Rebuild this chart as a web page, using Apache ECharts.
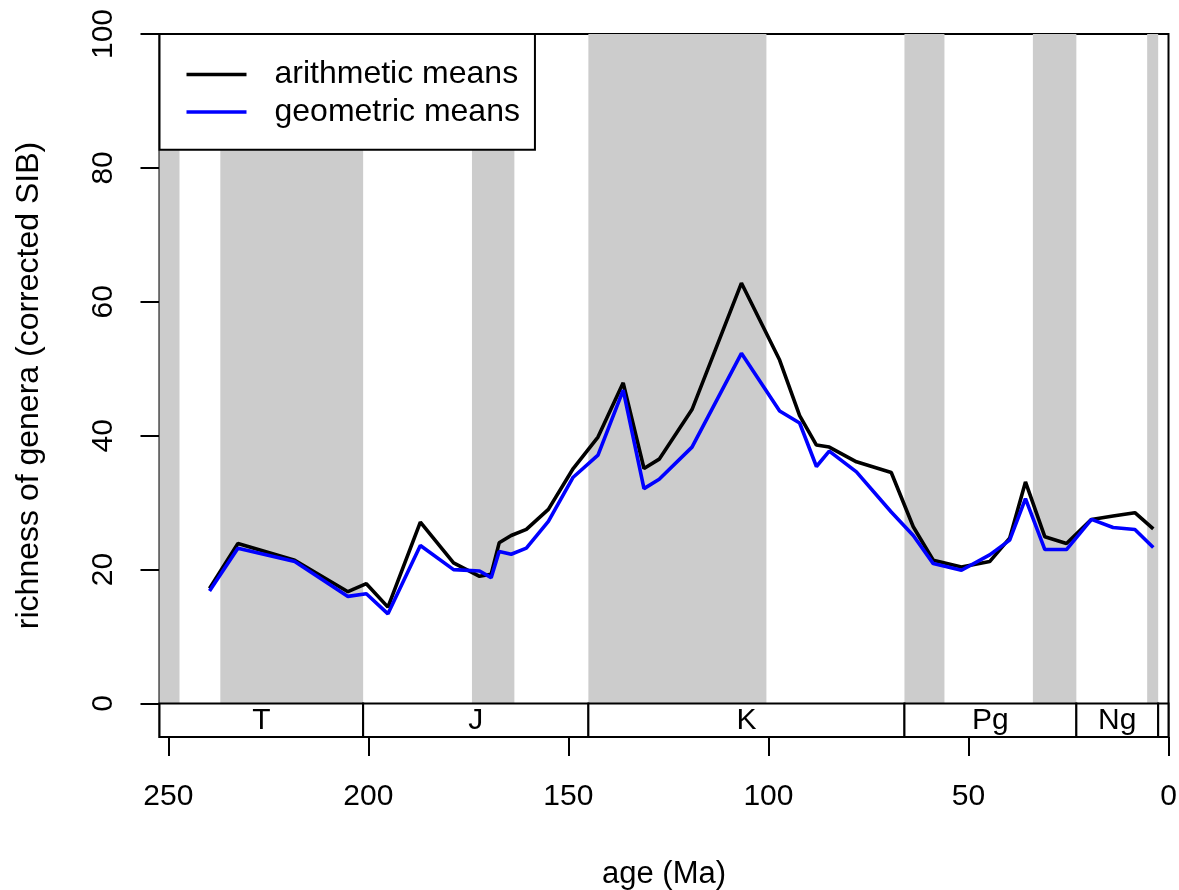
<!DOCTYPE html>
<html lang="en">

<head>
  <script src="https://cdn.jsdelivr.net/npm/echarts@6.0.0/dist/echarts.min.js"></script>
</head>

<body style="margin:0;background:#fff;">
  <div id="richnessChart" style="width: 1179px;height:890px;"></div>

  <script type="text/javascript">

    // ages of the bins (Ma) and the two richness curves
    var ages = [239.7, 232.6, 218.4, 205.1, 200.5, 195.1, 187.0, 178.7, 172.2, 169.3,
                167.3, 164.3, 160.5, 155.0, 148.8, 142.6, 136.3, 131.1, 127.3, 119.1,
                106.75, 97.2, 92.2, 88.0, 84.8, 78.0, 69.3, 63.8, 58.8, 51.75,
                44.7, 39.7, 35.75, 30.9, 25.5, 19.25, 13.85, 8.4, 3.8];
    var arithmeticMeans = [17.2, 23.9, 21.4, 16.7, 17.9, 14.4, 27.1, 21.0, 19.0, 19.3,
                           24.0, 25.1, 26.0, 29.0, 35.1, 39.8, 47.9, 35.1, 36.5, 43.9,
                           62.8, 51.3, 43.0, 38.6, 38.3, 36.1, 34.5, 26.4, 21.4, 20.4,
                           21.2, 24.7, 33.1, 24.9, 23.9, 27.5, 28.0, 28.5, 26.1];
    var geometricMeans = [16.8, 23.2, 21.2, 16.0, 16.4, 13.4, 23.6, 20.0, 19.8, 18.8,
                          22.7, 22.3, 23.2, 27.2, 33.8, 37.1, 46.8, 32.1, 33.5, 38.3,
                          52.3, 43.7, 41.9, 35.4, 37.7, 34.6, 28.6, 25.1, 20.9, 19.9,
                          22.2, 24.4, 30.6, 23.0, 23.0, 27.5, 26.3, 26.0, 23.3];

    // geological periods for the time scale bar
    var periodNames = ['T', 'J', 'K', 'Pg', 'Ng', ''];
    var periodStart = [252.2, 201.3, 145.0, 66.0, 23.03, 2.58];
    var periodEnd = [201.3, 145.0, 66.0, 23.03, 2.58, 0];

    // shaded epochs (every other epoch)
    var shadeStart = [252.2, 237.0, 174.1, 145.0, 66.0, 33.9, 5.333];
    var shadeEnd = [247.2, 201.3, 163.5, 100.5, 56.0, 23.03, 2.58];

    var xTicks = [0, 50, 100, 150, 200, 250];
    var yTicks = [0, 20, 40, 60, 80, 100];

    var font = 'Liberation Sans, Arial, Helvetica, sans-serif';

    function pairs(xs, ys) {
        return xs.map(function (x, i) { return [x, ys[i]]; });
    }

    function createRichnessChart() {
        const chart = echarts.init(document.getElementById('richnessChart'));

        var shadeData = shadeStart.map(function (s, i) { return [s, shadeEnd[i]]; });
        var periodData = periodStart.map(function (s, i) { return [s, periodEnd[i], periodNames[i]]; });

        var option = {
            animation: false,
            textStyle: { fontFamily: font },
            grid: {
                left: 159.5,
                right: 10.5,
                top: 34,
                bottom: 153,
                outerBoundsMode: 'none',
                containLabel: false,
                show: true,
                borderColor: '#000',
                borderWidth: 2,
                backgroundColor: 'transparent'
            },
            legend: {
                orient: 'vertical',
                left: 159.5,
                top: 34,
                backgroundColor: '#fff',
                borderColor: '#000',
                borderWidth: 2,
                borderRadius: 0,
                padding: [13, 15, 10, 27],
                icon: 'rect',
                itemWidth: 60,
                itemHeight: 3.5,
                itemGap: -17.6,
                formatter: function (name) { return '{t|' + name + '}'; },
                textStyle: {
                    color: '#000',
                    rich: {
                        t: {
                            fontSize: 32,
                            fontFamily: font,
                            color: '#000',
                            lineHeight: 34,
                            padding: [0, 0, 0, 23]
                        }
                    }
                },
                data: ['arithmetic means', 'geometric means']
            },
            xAxis: {
                type: 'value',
                inverse: true,
                min: 0,
                max: 252.2,
                name: 'age (Ma)',
                nameLocation: 'middle',
                nameGap: 111,
                nameTextStyle: { fontSize: 31, color: '#000', fontFamily: font },
                axisLine: { show: false, onZero: false },
                splitLine: { show: false },
                axisTick: {
                    show: true,
                    length: 19,
                    customValues: xTicks,
                    lineStyle: { color: '#000', width: 2 }
                },
                axisLabel: {
                    customValues: xTicks,
                    fontSize: 30,
                    color: '#000',
                    margin: 34
                }
            },
            yAxis: {
                type: 'value',
                min: -5,
                max: 100,
                name: 'richness of genera (corrected SIB)',
                nameLocation: 'middle',
                nameGap: 103,
                nameTextStyle: { fontSize: 32, color: '#000', fontFamily: font },
                axisLine: { show: false, onZero: false },
                splitLine: { show: false },
                axisTick: {
                    show: true,
                    length: 19,
                    customValues: yTicks,
                    lineStyle: { color: '#000', width: 2 }
                },
                axisLabel: {
                    customValues: yTicks,
                    rotate: 90,
                    fontSize: 30,
                    color: '#000',
                    margin: 30
                }
            },
            series: [
                {
                    name: 'epochs',
                    type: 'custom',
                    silent: true,
                    z: 1,
                    data: shadeData,
                    renderItem: function (params, api) {
                        var p0 = api.coord([api.value(0), 100]);
                        var p1 = api.coord([api.value(1), 0]);
                        return {
                            type: 'rect',
                            shape: { x: p0[0], y: p0[1], width: p1[0] - p0[0], height: p1[1] - p0[1] },
                            style: { fill: '#cccccc' }
                        };
                    }
                },
                {
                    name: 'periods',
                    type: 'custom',
                    silent: true,
                    z: 3,
                    data: periodData,
                    renderItem: function (params, api) {
                        var p0 = api.coord([api.value(0), 0]);
                        var p1 = api.coord([api.value(1), -5]);
                        return {
                            type: 'group',
                            children: [{
                                type: 'rect',
                                shape: { x: p0[0], y: p0[1], width: p1[0] - p0[0], height: p1[1] - p0[1] },
                                style: { fill: '#fff', stroke: '#000', lineWidth: 2 }
                            }, {
                                type: 'text',
                                style: {
                                    x: (p0[0] + p1[0]) / 2,
                                    y: (p0[1] + p1[1]) / 2,
                                    text: periodData[params.dataIndex][2],
                                    font: '30px ' + font,
                                    fill: '#000',
                                    align: 'center',
                                    verticalAlign: 'middle'
                                }
                            }]
                        };
                    }
                },
                {
                    name: 'arithmetic means',
                    type: 'line',
                    z: 4,
                    symbol: 'none',
                    silent: true,
                    color: '#000',
                    lineStyle: { color: '#000', width: 3.6 },
                    data: pairs(ages, arithmeticMeans)
                },
                {
                    name: 'geometric means',
                    type: 'line',
                    z: 5,
                    symbol: 'none',
                    silent: true,
                    color: '#0000ff',
                    lineStyle: { color: '#0000ff', width: 3.6 },
                    data: pairs(ages, geometricMeans)
                }
            ]
        };

        chart.setOption(option);
    }
    createRichnessChart();
  </script>
</body>

</html>
